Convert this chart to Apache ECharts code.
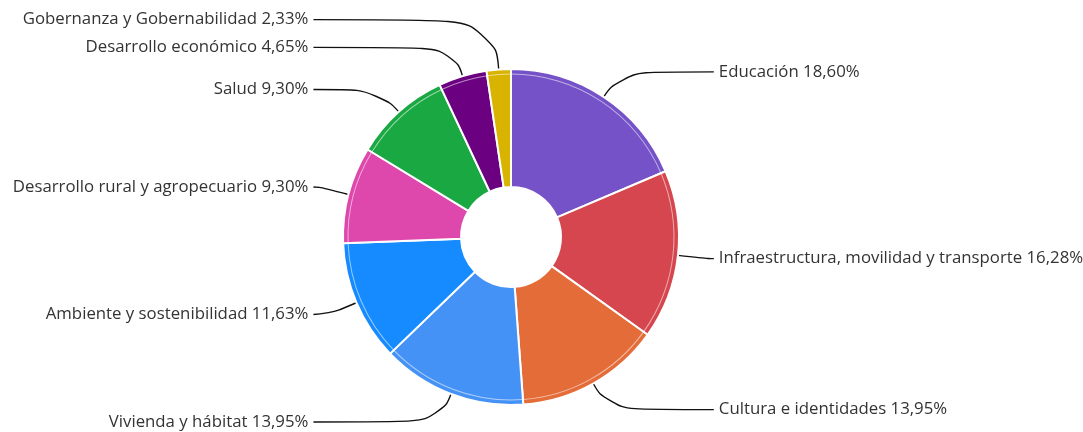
<!DOCTYPE html>
<html>
<head>
<meta charset="utf-8">
<script src="https://cdn.jsdelivr.net/npm/echarts@6/dist/echarts.min.js"></script>
<style>
  html, body { margin: 0; padding: 0; background: #fff; }
  #chart { width: 1083px; height: 432px; }
</style>
</head>
<body>
<div id="chart"></div>
<script>
// categorias y porcentajes
const categories = [
  'Educación',
  'Infraestructura, movilidad y transporte',
  'Cultura e identidades',
  'Vivienda y hábitat',
  'Ambiente y sostenibilidad',
  'Desarrollo rural y agropecuario',
  'Salud',
  'Desarrollo económico',
  'Gobernanza y Gobernabilidad'
]
const percents = [18.60, 16.28, 13.95, 13.95, 11.63, 9.30, 9.30, 4.65, 2.33]
const colors = ['#7552c8', '#d6464f', '#e46c38', '#4592f6', '#168bff', '#de48ac', '#1aa842', '#6b0080', '#d8b300']

const pieData = categories.map((name, i) => ({
  name: name,
  value: percents[i],
  itemStyle: { color: colors[i] },
  // la etiqueta mas pequena sube un poco mas arriba
  labelLine: name === 'Gobernanza y Gobernabilidad' ? { length: 50 } : undefined
}))

const chart = echarts.init(document.getElementById('chart'))

chart.setOption({
  animation: false,
  series: [
    {
      name: 'main',
      type: 'pie',
      center: [511, 237],
      radius: [50, 168],
      startAngle: 90,
      clockwise: true,
      avoidLabelOverlap: true,
      itemStyle: {
        borderColor: '#fff',
        borderWidth: 2
      },
      label: {
        show: true,
        alignTo: 'labelLine',
        overflow: 'none',
        fontFamily: 'Open Sans',
        fontSize: 16.8,
        color: '#333',
        formatter: p => p.name + ' ' + p.value.toFixed(2).replace('.', ',') + '%'
      },
      labelLine: {
        show: true,
        length: 30,
        length2: 6,
        smooth: 0.6,
        lineStyle: { color: '#111', width: 1.4 }
      },
      emphasis: { disabled: true },
      data: pieData
    },
    {
      // fina linea clara cerca del borde exterior
      name: 'ring',
      type: 'pie',
      silent: true,
      center: [511, 237],
      radius: [162.5, 163.5],
      startAngle: 90,
      label: { show: false },
      labelLine: { show: false },
      itemStyle: { color: 'rgba(255,255,255,0.55)', borderWidth: 0 },
      emphasis: { disabled: true },
      data: pieData.map(d => ({ name: d.name, value: d.value }))
    }
  ]
})
</script>
</body>
</html>
